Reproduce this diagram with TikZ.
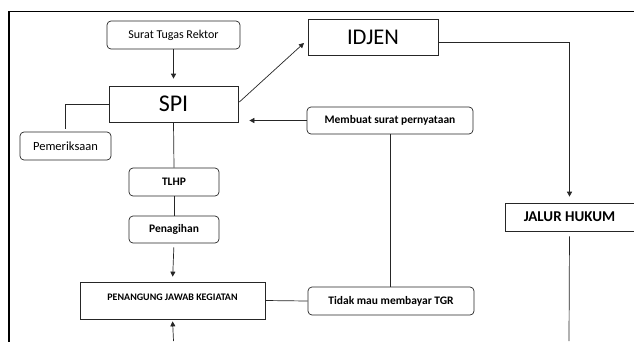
\documentclass[tikz,border=0pt]{standalone}
\usepackage{fontspec}
\setmainfont{Carlito}
\usetikzlibrary{arrows.meta,calc}
\begin{document}
\begin{tikzpicture}[x=1pt,y=-1pt,
  box/.style={draw=black!85,line width=0.7pt,inner sep=0pt,align=center},
  rbox/.style={box,rounded corners=4pt},
  conn/.style={draw=black!85,line width=0.7pt},
  arr/.style={conn,-{Triangle[length=5pt,width=5pt]}}]
\useasboundingbox (0,0) rectangle (634,341);
\fill[white] (0,0) rectangle (634,341);
\draw[line width=1.6pt] (9,342) -- (9,11.5) -- (636,11.5);
\node[rbox,minimum width=133pt,minimum height=28pt,font=\fontsize{12}{13}\selectfont] (surat) at (173.5,35) {Surat Tugas Rektor};
\node[box,minimum width=129pt,minimum height=36pt,font=\fontsize{24}{26}\selectfont] (spi) at (173.5,104) {SPI};
\node[rbox,minimum width=91pt,minimum height=28pt,font=\fontsize{12.5}{13}\selectfont] (pem) at (65.5,146) {Pemeriksaan};
\node[box,minimum width=130pt,minimum height=36pt,font=\fontsize{22.5}{24}\selectfont] (idjen) at (373,37) {IDJEN};
\node[rbox,minimum width=166pt,minimum height=27pt,font=\bfseries\fontsize{11.5}{12}\selectfont] (membuat) at (390,120.5) {Membuat surat pernyataan};
\node[rbox,minimum width=166pt,minimum height=28pt,font=\bfseries\fontsize{11.5}{12}\selectfont] (tidak) at (391,301) {Tidak mau membayar TGR};
\node[rbox,minimum width=90pt,minimum height=28pt,font=\bfseries\fontsize{11.5}{12}\selectfont] (tlhp) at (174,182) {TLHP};
\node[rbox,minimum width=90pt,minimum height=27pt,font=\bfseries\fontsize{11.5}{12}\selectfont] (penag) at (174,229.5) {Penagihan};
\node[box,minimum width=185pt,minimum height=37pt,text height=7pt,text depth=7pt,font=\bfseries\fontsize{10}{12}\selectfont] (pj) at (172.5,300.5) {PENANGUNG JAWAB KEGIATAN};
\node[box,minimum width=129pt,minimum height=28pt,font=\bfseries\fontsize{15}{16}\selectfont] (jalur) at (569.5,217) {JALUR HUKUM};
\coordinate (bl) at (173.5,341);
\coordinate (br) at (569,341);
\coordinate (idjtip) at (304,43);
\coordinate (pemtop) at (65,129);
\draw[arr,shorten >=7pt] (surat.south) -- (spi.north);
\draw[conn] (spi.west) -| (pemtop);
\draw[conn] (spi.south) -- (tlhp.north);
\draw[conn] (tlhp.south) -- (penag.north);
\draw[arr,shorten <=4pt,shorten >=5pt] (penag.south) -- (pj.north);
\draw[arr] ($(spi.east)+(1,-2)$) -- (idjtip);
\draw[arr,shorten >=11pt] (membuat.west) -- (membuat.west -| spi.east);
\draw[conn] (membuat.south) -- (tidak.north -| membuat.south);
\draw[conn] (pj.east) -- (tidak.west);
\draw[arr,shorten >=6pt] ($(idjen.east)+(0,5)$) -| (jalur.north);
\draw[conn,shorten <=5pt] (jalur.south) -- (br);
\draw[arr,shorten >=2pt] (bl) -- (pj.south);
\end{tikzpicture}
\end{document}
